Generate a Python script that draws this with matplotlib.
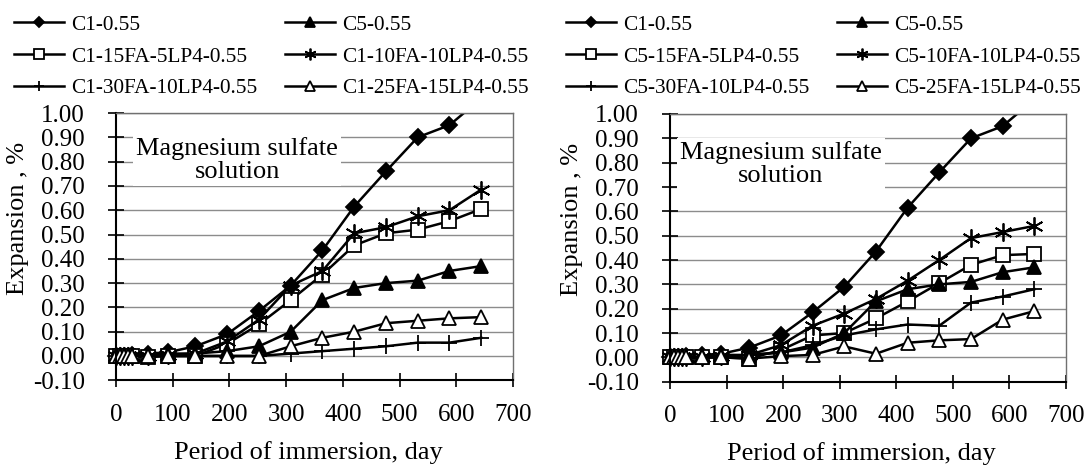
import matplotlib
matplotlib.use('Agg')
import matplotlib.pyplot as plt
from matplotlib.patches import Rectangle

plt.rcParams['font.family'] = 'Liberation Serif'

W, H = 1087, 468

# data
days = [0, 7, 14, 21, 28, 56, 91, 140, 196, 252, 308, 364, 420, 476, 532, 588, 644]

c1_055 = [0, 0, 0, 0, 0.005, 0.01, 0.015, 0.04, 0.09, 0.185, 0.29, 0.435, 0.615, 0.76, 0.90, 0.95, 1.06]
c5_055 = [0, 0, 0, 0, 0, 0.005, 0.01, 0.01, 0.02, 0.04, 0.10, 0.23, 0.28, 0.30, 0.31, 0.35, 0.37]

# left panel (C1 blends)
c1_15fa5lp = [0, 0, 0, 0, 0, -0.005, 0.0, 0.0, 0.05, 0.13, 0.23, 0.335, 0.455, 0.505, 0.52, 0.555, 0.605]
c1_10fa10lp = [0, 0, 0, 0, 0, 0, 0.005, 0.01, 0.06, 0.15, 0.29, 0.35, 0.505, 0.53, 0.575, 0.60, 0.685]
c1_30fa10lp = [0, 0, 0, 0, 0, 0, 0, 0, 0, 0, 0.01, 0.02, 0.03, 0.04, 0.055, 0.055, 0.075]
c1_25fa15lp = [0, 0, 0, 0, 0, 0, 0, 0, 0, 0, 0.04, 0.075, 0.10, 0.135, 0.145, 0.155, 0.16]

# right panel (C5 blends)
c5_15fa5lp = [0, 0, 0, 0, 0, 0, 0, -0.005, 0.03, 0.09, 0.10, 0.16, 0.23, 0.305, 0.38, 0.42, 0.425]
c5_10fa10lp = [0, 0, 0, 0, 0, 0, 0.005, 0.01, 0.05, 0.13, 0.18, 0.24, 0.315, 0.40, 0.49, 0.515, 0.54]
c5_30fa10lp = [0, 0, 0, 0, 0, 0, 0, 0.01, 0.02, 0.05, 0.09, 0.115, 0.135, 0.13, 0.225, 0.25, 0.28]
c5_25fa15lp = [0, 0, 0, 0, 0, 0, 0, -0.005, 0.005, 0.01, 0.045, 0.015, 0.06, 0.07, 0.075, 0.155, 0.19]

left_labels = ['C1-0.55', 'C1-15FA-5LP4-0.55', 'C1-30FA-10LP4-0.55',
               'C5-0.55', 'C1-10FA-10LP4-0.55', 'C1-25FA-15LP4-0.55']
right_labels = ['C1-0.55', 'C5-15FA-5LP4-0.55', 'C5-30FA-10LP4-0.55',
                'C5-0.55', 'C5-10FA-10LP4-0.55', 'C5-25FA-15LP4-0.55']

xticks = [0, 100, 200, 300, 400, 500, 600, 700]
yticks = [-0.1, 0.0, 0.1, 0.2, 0.3, 0.4, 0.5, 0.6, 0.7, 0.8, 0.9, 1.0]

# marker style per legend slot
markers = [
    dict(marker='D', ms=8, mfc='black'),
    dict(marker='s', ms=10, mfc='white'),
    dict(marker='+', ms=12, mfc='none'),
    dict(marker='^', ms=10, mfc='black'),
    dict(marker=(6, 2, 0), ms=13, mfc='none'),
    dict(marker='^', ms=10, mfc='white'),
]


def draw(ax, series, labels, leg_x):
    clip = Rectangle((-0.06, -0.06), 1.12, 1.06, transform=ax.transAxes,
                     facecolor='none', edgecolor='none')
    ax.add_patch(clip)
    handles = []
    for vals, lab, st in zip(series, labels, markers):
        ln, = ax.plot(days, vals, color='black', lw=1.8, mec='black', mew=1.3,
                      label=lab, **st)
        ln.set_clip_path(clip)
        handles.append(ln)

    ax.set_xlim(0, 700)
    ax.set_ylim(-0.1, 1.0)
    ax.set_xticks(xticks)
    ax.set_yticks(yticks)
    ax.set_yticklabels(['%.2f' % v for v in yticks])
    ax.grid(axis='y', color='#8c8c8c', lw=1.0)
    ax.set_axisbelow(True)
    for s in ['top', 'right']:
        ax.spines[s].set_color('#707070')
        ax.spines[s].set_linewidth(1.0)
    for s in ['left', 'bottom']:
        ax.spines[s].set_color('black')
        ax.spines[s].set_linewidth(1.5)
    ax.tick_params(axis='y', direction='inout', length=11, width=1.2,
                   labelsize=18, pad=17)
    ax.tick_params(axis='x', direction='inout', length=10, width=1.2,
                   labelsize=18, pad=12)

    ax.set_ylabel('Expansion , %', fontsize=19, va='center')
    ax.yaxis.set_label_coords(-0.247, 0.607)
    ax.set_xlabel('Period of immersion, day', fontsize=19, va='center')
    ax.xaxis.set_label_coords(0.484, -0.27)

    fig.legend(handles=handles, loc='upper left',
               bbox_to_anchor=(leg_x / W, 1 - 15 / H), ncol=2,
               frameon=False, fontsize=15.3, handlelength=2.35,
               handletextpad=0.33, columnspacing=1.3, labelspacing=0.56,
               borderaxespad=0, borderpad=0, markerscale=0.65)


fig = plt.figure(figsize=(W / 100, H / 100), dpi=100)
ax1 = fig.add_axes([116 / W, 1 - 380.3 / H, (513 - 116) / W, (380.3 - 113) / H])
ax2 = fig.add_axes([670 / W, 1 - 381.7 / H, (1066 - 670) / W, (381.7 - 114) / H])

draw(ax1, [c1_055, c1_15fa5lp, c1_30fa10lp, c5_055, c1_10fa10lp, c1_25fa15lp],
     left_labels, 14)
draw(ax2, [c1_055, c5_15fa5lp, c5_30fa10lp, c5_055, c5_10fa10lp, c5_25fa15lp],
     right_labels, 566)

ax1.text(0.305, 0.824, 'Magnesium sulfate\nsolution', transform=ax1.transAxes,
         ha='center', va='center', fontsize=19, linespacing=1.1,
         bbox=dict(facecolor='white', edgecolor='none', pad=2))
ax2.text(0.28, 0.813, 'Magnesium sulfate\nsolution', transform=ax2.transAxes,
         ha='center', va='center', fontsize=19, linespacing=1.1,
         bbox=dict(facecolor='white', edgecolor='none', pad=2))

fig.savefig('out.png', dpi=100)
